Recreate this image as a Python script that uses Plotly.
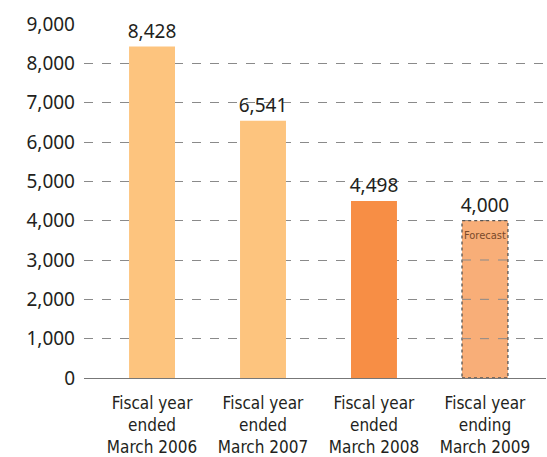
import plotly.graph_objects as go

# Fiscal-year figures
categories = [
    "Fiscal year<br>ended<br>March 2006",
    "Fiscal year<br>ended<br>March 2007",
    "Fiscal year<br>ended<br>March 2008",
    "Fiscal year<br>ending<br>March 2009",
]
values = [8428, 6541, 4498, 4000]
value_labels = ["8,428", "6,541", "4,498", "4,000"]
bar_colors = ["#FDC47E", "#FDC47E", "#F78E45", "#F8AE78"]
forecast_note = "Forecast"

tick_vals = [0, 1000, 2000, 3000, 4000, 5000, 6000, 7000, 8000, 9000]
tick_text = ["0", "1,000", "2,000", "3,000", "4,000", "5,000", "6,000", "7,000", "8,000", "9,000"]

text_font = "Noto Sans, Open Sans, sans-serif"
narrow_font = "DejaVu Sans Condensed, Liberation Sans Narrow, Noto Sans, sans-serif"
ink = "#231F20"
grid_color = "#8a8a8a"
bargap = 0.586
half_bar = (1 - bargap) / 2
forecast_idx = 3

fig = go.Figure()

# Actual results (solid bars)
fig.add_trace(go.Bar(
    x=categories[:3], y=values[:3],
    marker=dict(color=bar_colors[:3], line=dict(width=0)),
    text=value_labels[:3], textposition="outside", cliponaxis=False,
    constraintext="none",
    textfont=dict(family=text_font, size=19, color=ink),
    hoverinfo="skip",
))
# Forecast bar
fig.add_trace(go.Bar(
    x=categories[3:], y=values[3:],
    marker=dict(color=bar_colors[3:], line=dict(width=0)),
    text=value_labels[3:], textposition="outside", cliponaxis=False,
    constraintext="none",
    textfont=dict(family=text_font, size=19, color=ink),
    hoverinfo="skip",
))

# Dotted outline around the forecast bar
fig.add_shape(
    type="rect", xref="x", yref="y", layer="above",
    x0=forecast_idx - half_bar, x1=forecast_idx + half_bar,
    y0=0, y1=values[forecast_idx],
    line=dict(color="#555555", width=1.3, dash="dot"),
)
# Grid lines stay visible through the forecast bar
for tv in tick_vals:
    if 0 < tv < values[forecast_idx]:
        fig.add_shape(
            type="line", xref="x", yref="y", layer="above",
            x0=forecast_idx - half_bar, x1=forecast_idx + half_bar,
            y0=tv, y1=tv,
            line=dict(color=grid_color, width=1, dash="dash"),
        )

fig.add_annotation(
    x=categories[forecast_idx], y=values[forecast_idx], yanchor="top", yshift=-6,
    text=forecast_note, showarrow=False,
    font=dict(family=narrow_font, size=11, color="#7a4a2a"),
)

fig.update_layout(
    width=547, height=457,
    margin=dict(l=84, r=1, t=24, b=79),
    paper_bgcolor="white", plot_bgcolor="white",
    showlegend=False, barmode="overlay", bargap=bargap,
    font=dict(family=text_font, color=ink),
)
fig.update_xaxes(
    type="category", categoryorder="array", categoryarray=categories,
    range=[-0.613, 3.55], automargin=False,
    showline=True, linecolor="#777777", linewidth=1.2,
    ticks="", showgrid=False, ticklabelstandoff=9,
    tickfont=dict(family=narrow_font, size=17, color=ink),
)
fig.update_yaxes(
    range=[0, 9000], tickvals=tick_vals, ticktext=tick_text, automargin=False,
    showgrid=True, gridcolor=grid_color, griddash="dash", gridwidth=1,
    zeroline=False, showline=False, ticks="", ticklabelstandoff=8,
    tickfont=dict(family=text_font, size=19, color=ink),
)

fig.write_html("out.html")
